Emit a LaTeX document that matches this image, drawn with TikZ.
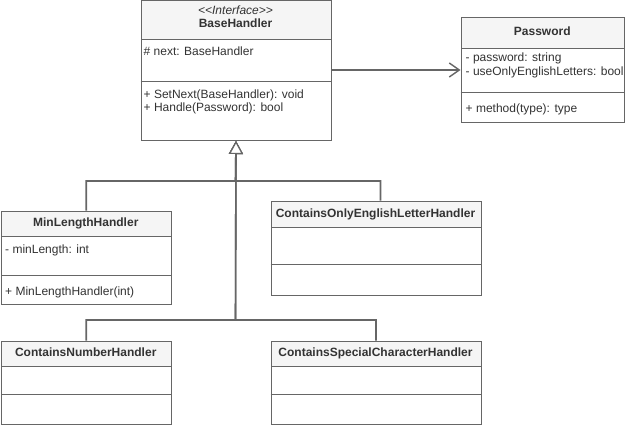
\documentclass[tikz,border=0pt]{standalone}
\usepackage{fontspec}
\setmainfont{Liberation Sans}
\usetikzlibrary{arrows.meta}
\definecolor{bord}{HTML}{666666}
\definecolor{txt}{HTML}{333333}
\definecolor{hdr}{HTML}{F5F5F5}
\begin{document}
\begin{tikzpicture}[x=1pt,y=-1pt,
  classbox/.style={draw=bord, line width=1pt, fill=white, inner sep=0pt, anchor=north west},
  hdrbox/.style={draw=bord, line width=1pt, fill=hdr, inner sep=0pt, anchor=north west},
  divline/.style={draw=bord, line width=1pt},
  lbl/.style={text=txt, inner sep=0pt, text height=9pt, text depth=2.5pt, font=\fontsize{12}{14}\selectfont},
  lblw/.style={lbl, anchor=west},
  cname/.style={lbl, font=\fontsize{12}{14}\selectfont\bfseries},
  inh/.style={draw=bord, line width=1.6pt, -{Triangle[length=13pt,width=14pt,fill=white,line width=1.2pt]}},
  assoc/.style={draw=bord, line width=1.6pt, -{Straight Barb[length=10pt,width=14pt,line width=1.4pt]}}
]
\useasboundingbox (0,0) rectangle (631,428);

% BaseHandler
\node[classbox, minimum width=190pt, minimum height=139.5pt] (base) at (140.5,0.5) {};
\node[hdrbox, minimum width=190pt, minimum height=38.5pt] (baseH) at (140.5,0.5) {};
\draw[divline] (base.west |- 0,81) -- (base.east |- 0,81);
\node[lbl, font=\fontsize{12}{14}\selectfont\itshape] (baseSt) at (235.5,11) {\textless{}\kern0pt\textless{}Interface\textgreater{}\kern0pt\textgreater{}};
\node[cname] (baseN) at (235.5,24.5) {BaseHandler};
\node[lblw] (baseA) at (143.5,52) {\# next: BaseHandler};
\node[lblw] (baseM1) at (143.5,95) {+ SetNext(BaseHandler): void};
\node[lblw] (baseM2) at (143.5,108.5) {+ Handle(Password): bool};

% Password
\node[classbox, minimum width=163.5pt, minimum height=105pt] (pw) at (460.5,17) {};
\node[hdrbox, minimum width=163.5pt, minimum height=31pt] (pwH) at (460.5,17) {};
\draw[divline] (pw.west |- 0,92) -- (pw.east |- 0,92);
\node[cname] (pwN) at (542.25,32.5) {Password};
\node[lblw] (pwA1) at (465.5,58) {- password: string};
\node[lblw] (pwA2) at (465.5,72) {- useOnlyEnglishLetters: bool};
\node[lblw] (pwM) at (465.5,109) {+ method(type): type};

% MinLengthHandler
\node[classbox, minimum width=169.5pt, minimum height=93.5pt] (minlen) at (1,210.5) {};
\node[hdrbox, minimum width=169.5pt, minimum height=25pt] (minlenH) at (1,210.5) {};
\draw[divline] (minlen.west |- 0,275) -- (minlen.east |- 0,275);
\node[cname] (minlenN) at (85.75,223) {MinLengthHandler};
\node[lblw] (minlenA) at (5,250) {- minLength: int};
\node[lblw] (minlenM) at (5,292.5) {+ MinLengthHandler(int)};

% ContainsOnlyEnglishLetterHandler
\node[classbox, minimum width=210pt, minimum height=94pt] (coel) at (270.5,200.5) {};
\node[hdrbox, minimum width=210pt, minimum height=26pt] (coelH) at (270.5,200.5) {};
\draw[divline] (coel.west |- 0,264.5) -- (coel.east |- 0,264.5);
\node[cname] (coelN) at (375.5,214) {ContainsOnlyEnglishLetterHandler};

% ContainsNumberHandler
\node[classbox, minimum width=169.5pt, minimum height=83.5pt] (cnum) at (1,340.5) {};
\node[hdrbox, minimum width=169.5pt, minimum height=25.5pt] (cnumH) at (1,340.5) {};
\draw[divline] (cnum.west |- 0,394) -- (cnum.east |- 0,394);
\node[cname] (cnumN) at (85.75,353.5) {ContainsNumberHandler};

% ContainsSpecialCharacterHandler
\node[classbox, minimum width=210pt, minimum height=83.5pt] (cspec) at (270.5,340.5) {};
\node[hdrbox, minimum width=210pt, minimum height=25.5pt] (cspecH) at (270.5,340.5) {};
\draw[divline] (cspec.west |- 0,394) -- (cspec.east |- 0,394);
\node[cname] (cspecN) at (375.5,353.5) {ContainsSpecialCharacterHandler};

% connectors
\coordinate (j1) at (235.5,181);
\coordinate (j2) at (235.5,320);
\draw[assoc] (base.east |- pw.west) -- (pw.west);
\draw[inh] (minlenH.north) |- (j1) -- (base.south);
\draw[inh] ([xshift=4.5pt]coelH.north) |- (j1) -- (base.south);
\draw[inh] (cnumH.north) |- (j2) -- (base.south);
\draw[inh] (cspecH.north) |- (j2) -- (base.south);
\end{tikzpicture}
\end{document}
